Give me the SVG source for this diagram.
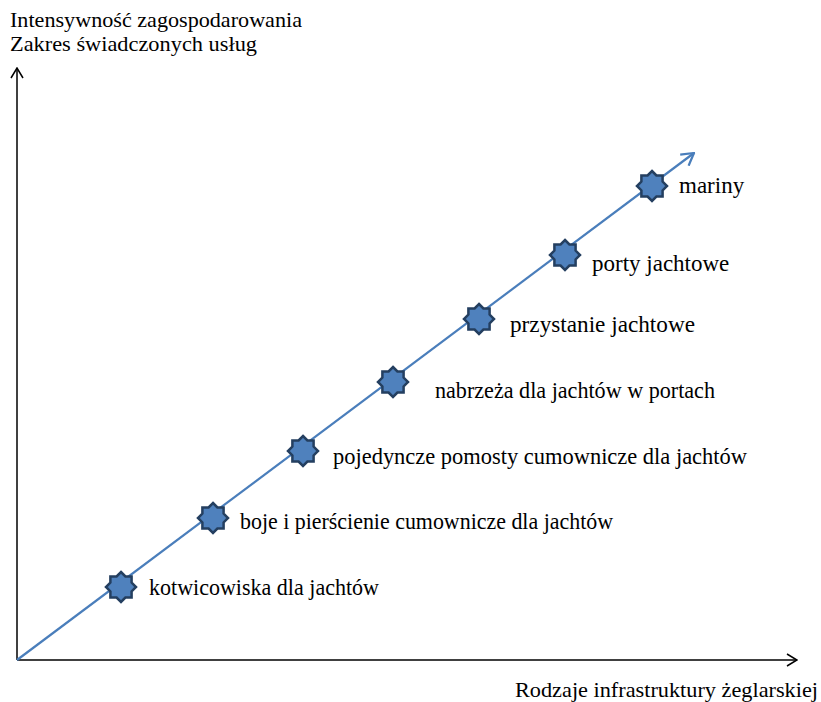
<svg xmlns="http://www.w3.org/2000/svg" width="821" height="702" viewBox="0 0 821 702">
  <style>
    .axis { stroke: #000; stroke-width: 1.5; fill: none; }
    .trend { stroke: #4A7EBB; stroke-width: 2.2; fill: none; }
    .star { fill: #4F81BD; stroke: #243F60; stroke-width: 2.5; stroke-linejoin: miter; }
    .lbl, .ttl { font-family: 'Liberation Serif', 'Times New Roman', serif; fill: #000; }
    .lbl { font-size: 23px; }
    .ttl { font-size: 22px; }
  </style>
  <defs>
    <marker id="arrBlack" viewBox="0 0 12 14" refX="11" refY="7" markerWidth="12" markerHeight="14" markerUnits="userSpaceOnUse" orient="auto">
      <path d="M1,1 L11,7 L1,13" fill="none" stroke="#000" stroke-width="1.5"/>
    </marker>
    <marker id="arrBlue" viewBox="0 0 14 16" refX="13" refY="8" markerWidth="14" markerHeight="16" markerUnits="userSpaceOnUse" orient="auto">
      <path d="M1,1 L13,8 L1,15" fill="none" stroke="#4A7EBB" stroke-width="2.2"/>
    </marker>
    <polygon id="star8" points="0,-15 4.4,-10.6 10.61,-10.61 10.6,-4.4 15,0 10.6,4.4 10.61,10.61 4.4,10.6 0,15 -4.4,10.6 -10.61,10.61 -10.6,4.4 -15,0 -10.6,-4.4 -10.61,-10.61 -4.4,-10.6"/>
  </defs>

  <!-- axes and trend line -->
  <g id="connectors">
    <line class="axis" x1="17" y1="660" x2="17" y2="68" marker-end="url(#arrBlack)"/>
    <line class="axis" x1="17" y1="660" x2="797" y2="660" marker-end="url(#arrBlack)"/>
    <line class="trend" x1="17" y1="660" x2="694" y2="153" marker-end="url(#arrBlue)"/>
  </g>

  <!-- axis titles -->
  <g id="axis-y-title">
    <text class="ttl" x="10" y="27" textLength="292" lengthAdjust="spacingAndGlyphs">Intensywność zagospodarowania</text>
    <text class="ttl" x="10" y="51" textLength="247" lengthAdjust="spacingAndGlyphs">Zakres świadczonych usług</text>
  </g>
  <g id="axis-x-title">
    <text class="ttl" x="515" y="697" textLength="303" lengthAdjust="spacingAndGlyphs">Rodzaje infrastruktury żeglarskiej</text>
  </g>

  <!-- infrastructure levels -->
  <g id="node-kotwicowiska">
    <use href="#star8" class="star" x="121" y="587"/>
    <text class="lbl" x="149" y="595" textLength="230" lengthAdjust="spacingAndGlyphs">kotwicowiska dla jachtów</text>
  </g>
  <g id="node-boje">
    <use href="#star8" class="star" x="213" y="518"/>
    <text class="lbl" x="240" y="529" textLength="373" lengthAdjust="spacingAndGlyphs">boje i pierścienie cumownicze dla jachtów</text>
  </g>
  <g id="node-pomosty">
    <use href="#star8" class="star" x="303" y="451"/>
    <text class="lbl" x="333" y="464" textLength="414" lengthAdjust="spacingAndGlyphs">pojedyncze pomosty cumownicze dla jachtów</text>
  </g>
  <g id="node-nabrzeza">
    <use href="#star8" class="star" x="393" y="382"/>
    <text class="lbl" x="435" y="398" textLength="280" lengthAdjust="spacingAndGlyphs">nabrzeża dla jachtów w portach</text>
  </g>
  <g id="node-przystanie">
    <use href="#star8" class="star" x="479" y="319"/>
    <text class="lbl" x="510" y="332" textLength="185" lengthAdjust="spacingAndGlyphs">przystanie jachtowe</text>
  </g>
  <g id="node-porty">
    <use href="#star8" class="star" x="565" y="255"/>
    <text class="lbl" x="592" y="271">porty jachtowe</text>
  </g>
  <g id="node-mariny">
    <use href="#star8" class="star" x="652" y="186"/>
    <text class="lbl" x="679" y="193">mariny</text>
  </g>
</svg>
